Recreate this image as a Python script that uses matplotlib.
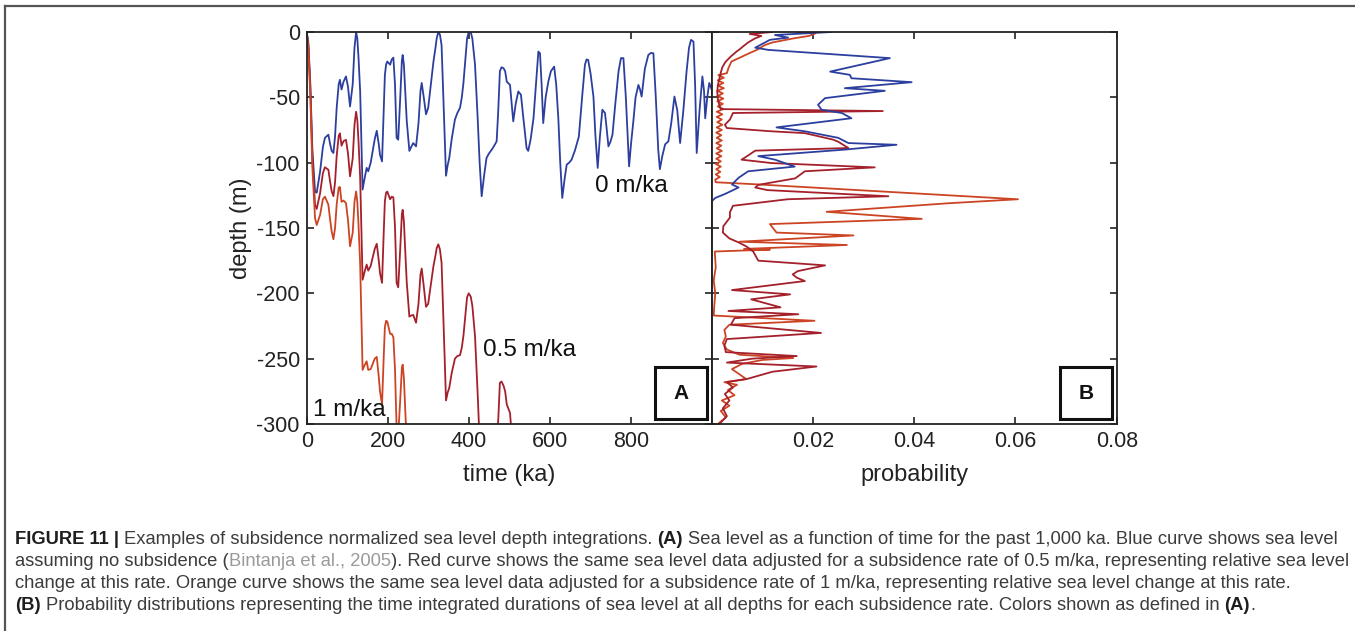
import matplotlib
matplotlib.use("Agg")
import matplotlib.pyplot as plt
from matplotlib.patches import Rectangle
from matplotlib.lines import Line2D

plt.rcParams["font.family"] = ["Liberation Sans", "DejaVu Sans"]
plt.rcParams["axes.unicode_minus"] = False

# ---- panel A: sea level vs time ----
time_blue = [0, 4, 9, 14, 20.6, 24.7, 33, 40, 45, 53.5, 58, 61.7, 66, 70, 74, 79, 82, 86, 91, 97,
             102, 107, 113.6, 118, 122, 125, 128, 132, 138, 143, 148, 152, 158, 163, 168, 173, 178,
             181, 186, 190, 193, 196, 199, 203, 206, 210, 214, 218, 222, 226, 231, 235, 237, 240,
             244, 247, 253.5, 258, 263, 270, 276, 281, 284, 289, 294.6, 300, 304.5, 313, 318, 321,
             325, 329, 333, 338, 344, 348, 352, 358, 366, 372, 378.6, 383, 387, 392, 396, 400, 405,
             409, 415.6, 422, 427, 432, 438, 444, 450, 457, 463, 469, 473, 477, 481, 486, 490, 494,
             502, 510, 516, 522.5, 529, 535, 543, 547, 553, 560, 566, 572, 576, 580, 584, 590, 596.6,
             603, 611, 616, 621.3, 626, 631, 637, 642, 648, 654, 662, 672, 680, 687, 691, 695, 701,
             708, 713, 718.5, 724, 730, 736.5, 740, 745, 750, 755, 762, 770, 776, 782, 788, 796, 801,
             806.5, 812, 819, 823, 827, 835, 843.5, 850, 856, 862, 868, 872, 878, 885, 893, 900, 908,
             915, 922, 930, 938, 944, 949, 955, 959, 963, 970, 977, 981, 984, 989, 994, 1000]
depth_blue = [0, -8, -40, -90, -122, -123, -107, -88, -81, -78.6, -86, -91, -92.6, -80, -58, -40,
              -36.6, -44, -38, -34, -42, -57, -40, -12, 0, -5, -20, -45.5, -120.6, -112, -104, -106.6,
              -100, -91, -82, -75.6, -86, -94, -99, -60, -33, -25, -22.6, -24, -25, -21, -19.6, -40,
              -81, -82.4, -50, -22, -17.6, -25, -50, -68, -91, -88, -85, -87.5, -70, -45, -39, -50,
              -63, -58, -45.5, -22.6, -12, -4.8, 0, -2, -10, -55, -110, -102, -96.4, -82, -67, -62,
              -58, -50, -39, -20, -5, 0, 0, -5, -25, -65, -100, -125.7, -110, -96.4, -93, -90, -87,
              -83.7, -60, -30, -27, -27.7, -30, -38, -40.5, -68.4, -55, -45.5, -48, -66, -89, -91,
              -82, -66, -40, -15, -16.3, -40, -69.7, -50, -38, -30, -26.5, -40, -66, -100, -127, -112,
              -101.5, -100, -97.7, -91, -80, -50, -25, -21, -21.4, -32, -49.4, -80, -104, -80, -59.5,
              -62, -72, -87.5, -84, -78.6, -55, -30, -20, -20, -50, -102.8, -85, -68.4, -50, -40.5,
              -44, -49.4, -28, -17.6, -16, -16.3, -50, -90, -105, -95, -86, -83.7, -70, -49.4, -60,
              -85, -60, -30, -12, -6, -7.4, -40, -92.6, -60, -34, -45, -66, -50, -39, -44]

time_red = [0, 4, 9, 14, 20.6, 24.7, 33, 40, 45, 53.5, 58, 61.7, 66, 70, 74, 79, 82, 86, 91, 97,
            102, 107, 113.6, 118, 122, 125, 128, 132, 138, 143, 148, 152, 158, 163, 168, 173, 178,
            181, 186, 190, 193, 196, 199, 203, 206, 210, 214, 218, 222, 226, 231, 235, 237, 240,
            244, 247, 253.5, 258, 263, 270, 276, 281, 284, 289, 294.6, 300, 304.5, 313, 318, 321,
            325, 329, 333, 338, 344, 348, 352, 358, 366, 372, 378.6, 383, 387, 392, 396, 400, 405,
            409, 415.6, 422, 427, 432, 438, 444, 450, 457, 463, 469, 473, 477, 481, 486, 490, 494,
            502, 510, 516]
depth_red = [0, -10, -44.5, -97, -132.3, -135.4, -123.5, -108, -103.5, -105.4, -115, -121.9, -125.6,
             -115, -95, -79.5, -77.6, -87, -83.5, -82.5, -93, -110.5, -96.8, -71, -61, -67.5, -84,
             -111.5, -189.6, -183.5, -178, -182.6, -179, -172.5, -166, -162.1, -175, -184.5, -192,
             -155, -129.5, -123, -122.1, -125.5, -128, -126, -126.6, -149, -192, -195.4, -165.5,
             -139.5, -136.1, -145, -172, -191.5, -217.8, -217, -216.5, -222.5, -208, -185.5, -181,
             -194.5, -210.3, -208, -197.8, -179.1, -171, -165.3, -162.5, -166.5, -176.5, -224, -282,
             -276, -272.4, -261, -250, -248, -247.3, -241.5, -232.5, -216, -203, -200, -202.5,
             -209.5, -232.8, -276, -313.5, -341.7, -329, -318.4, -318, -318.5, -318.5, -318.2,
             -296.5, -268.5, -267.5, -270.7, -275, -285, -291.5, -323.4, -313]

time_orange = [0, 4, 9, 14, 20.6, 24.7, 33, 40, 45, 53.5, 58, 61.7, 66, 70, 74, 79, 82, 86, 91, 97,
               102, 107, 113.6, 118, 122, 125, 128, 132, 138, 143, 148, 152, 158, 163, 168, 173,
               178, 181, 186, 190, 193, 196, 199, 203, 206, 210, 214, 218, 222, 226, 231, 235, 237,
               240, 244, 247]
depth_orange = [0, -12, -49, -104, -142.6, -147.7, -140, -128, -126, -132.1, -144, -152.7, -158.6,
                -150, -132, -119, -118.6, -130, -129, -131, -144, -164, -153.6, -130, -122, -130,
                -148, -177.5, -258.6, -255, -252, -258.6, -258, -254, -250, -248.6, -264, -275,
                -285, -250, -226, -221, -221.6, -227, -231, -231, -233.6, -258, -303, -308.4, -281,
                -257, -254.6, -265, -294, -315]

# ---- panel B: probability vs depth ----
pdepth_blue = [0, -2.3, -4.3, -6, -8.7, -12, -13.7, -20, -30.3, -32.8, -35.4, -38.4, -43, -45,
               -50.6, -55.7, -59.5, -62, -66, -73, -76, -81, -85, -86.3, -90, -95, -97.7, -103,
               -106.6, -111.6, -116.7, -119, -124, -127, -129.6, -300]
prob_blue = [0.0237, 0.0125, 0.0151, 0.0115, 0.0102, 0.0086, 0.0112, 0.0352, 0.0234, 0.0273,
             0.0276, 0.0395, 0.0263, 0.0342, 0.0224, 0.0210, 0.0217, 0.0257, 0.0276, 0.0128,
             0.0184, 0.0250, 0.0270, 0.0365, 0.0263, 0.0092, 0.0125, 0.0164, 0.0072, 0.0053,
             0.0040, 0.0053, 0.0026, 0.0007, 0.0, 0.0]

pdepth_red = [0, -1.5, -3, -5, -8, -11, -13, -15, -19, -23, -27, -31, -36, -41, -46, -51, -56, -59,
              -60.5, -62, -67, -71, -73.5, -76, -77.4, -82.4, -84, -88.8, -90.8, -95, -97.7, -100.3,
              -103.6, -106.6, -112, -117, -119, -121, -125.7, -128, -133, -138, -142, -148.6,
              -153.5, -158, -161, -164, -168, -175, -178.6, -183, -185.5, -188, -190.6, -197.5,
              -200.8, -204.6, -210.7, -213.5, -216, -219, -224, -230.3, -235, -240, -245, -248,
              -250, -253, -256, -260, -265.6, -268, -272, -277, -282, -288, -294, -300]
prob_red = [0.0120, 0.0075, 0.0098, 0.0085, 0.0072, 0.0062, 0.0056, 0.0049, 0.0037, 0.0027,
            0.0021, 0.0018, 0.0015, 0.0012, 0.0011, 0.0012, 0.0015, 0.0018, 0.0338, 0.0042,
            0.0036, 0.0026, 0.0030, 0.0118, 0.0184, 0.0240, 0.0250, 0.0270, 0.0086, 0.0070,
            0.0059, 0.0118, 0.0322, 0.0184, 0.0165, 0.0092, 0.0086, 0.0110, 0.0349, 0.0150,
            0.0042, 0.0036, 0.0036, 0.0023, 0.0022, 0.0035, 0.0053, 0.0068, 0.0082, 0.0092,
            0.0224, 0.0170, 0.0160, 0.0168, 0.0184, 0.0040, 0.0155, 0.0078, 0.0136, 0.0033,
            0.0171, 0.0045, 0.0038, 0.0216, 0.0030, 0.0025, 0.0028, 0.0168, 0.0080, 0.0030,
            0.0207, 0.0120, 0.0069, 0.0030, 0.0042, 0.0026, 0.0035, 0.0022, 0.0030, 0.0015]

pdepth_orange = [0, -1, -3, -5, -8, -10, -13.7, -17, -19, -22.6, -27.7, -31.5,
                 -33, -35, -37, -39, -41, -43, -45, -47, -49, -51, -53, -55, -57, -59, -61, -63,
                 -65, -67, -69, -71, -73, -75, -77, -79, -81, -83, -85, -87, -89, -91, -93, -95,
                 -97, -99, -101, -103, -105, -107, -109, -111, -113, -115,
                 -116.5, -128, -131, -137.6, -143, -147, -153.5, -155.7, -160.5, -163, -166,
                 -166.5, -168, -180, -190, -200, -210, -217, -221, -224, -228, -233, -238, -243,
                 -247, -249.5, -251, -254, -258, -262, -265.6, -268, -270, -274, -278, -282, -286,
                 -290, -295, -300]
prob_orange = [0.0170, 0.0205, 0.0192, 0.0160, 0.0120, 0.0105, 0.0089, 0.0070, 0.0059, 0.0039,
               0.0033, 0.0030,
               0.0013, 0.0024, 0.0012, 0.0023, 0.0012, 0.0024, 0.0011, 0.0022, 0.0012, 0.0023,
               0.0011, 0.0022, 0.0012, 0.0023, 0.0010, 0.0021, 0.0010, 0.0020, 0.0011, 0.0021,
               0.0010, 0.0020, 0.0009, 0.0019, 0.0010, 0.0020, 0.0009, 0.0019, 0.0010, 0.0020,
               0.0009, 0.0019, 0.0009, 0.0018, 0.0008, 0.0018, 0.0009, 0.0017, 0.0008, 0.0016,
               0.0007, 0.0008,
               0.0085, 0.0605, 0.0470, 0.0227, 0.0415, 0.0115, 0.0128, 0.0280, 0.0055, 0.0267,
               0.0064, 0.0115, 0.0006, 0.0008, 0.0004, 0.0007, 0.0005, 0.0004, 0.0203, 0.0035,
               0.0025, 0.0028, 0.0022, 0.0030, 0.0055, 0.0161, 0.0100, 0.0060, 0.0040, 0.0055,
               0.0068, 0.0025, 0.0050, 0.0032, 0.0045, 0.0020, 0.0035, 0.0018, 0.0028, 0.0012]

time_ticks = [0, 200, 400, 600, 800]
prob_ticks = [0.02, 0.04, 0.06, 0.08]
depth_ticks = [0, -50, -100, -150, -200, -250, -300]

C_BLUE = "#2c3f9e"
C_RED = "#a4202b"
C_ORANGE = "#cc4424"
C_AX = "#222222"

W, H = 1355, 631
fig = plt.figure(figsize=(W / 100, H / 100), dpi=100)


def fx(px):
    return px / W


def fy(py):
    return 1 - py / H


ax_top, ax_bot = 32, 424
axA = fig.add_axes([fx(306.7), fy(ax_bot), fx(405), (ax_bot - ax_top) / H])
axB = fig.add_axes([fx(711.7), fy(ax_bot), fx(405), (ax_bot - ax_top) / H])

lw = 1.3
axA.plot(time_blue, depth_blue, color=C_BLUE, lw=lw)
axA.plot(time_red, depth_red, color=C_RED, lw=lw)
axA.plot(time_orange, depth_orange, color=C_ORANGE, lw=lw)

axB.plot(prob_orange, pdepth_orange, color=C_ORANGE, lw=lw)
axB.plot(prob_red, pdepth_red, color=C_RED, lw=lw)
axB.plot(prob_blue, pdepth_blue, color=C_BLUE, lw=lw)

for ax in (axA, axB):
    ax.set_ylim(-300, 0)
    ax.set_yticks(depth_ticks)
    ax.tick_params(direction="in", top=True, right=True, length=5, width=1.2,
                   labelsize=15.5, colors=C_AX, pad=5)
    for s in ax.spines.values():
        s.set_color(C_AX)
        s.set_linewidth(1.3)

axA.set_xlim(0, 1000)
axA.set_xticks(time_ticks)
axA.set_xlabel("time (ka)", fontsize=17, color=C_AX, va="center")
axA.set_ylabel("depth (m)", fontsize=17, color=C_AX, va="center")
axA.xaxis.set_label_coords(0.5, -0.13)
axA.yaxis.set_label_coords(-0.162, 0.5)

axB.set_xlim(0, 0.08)
axB.set_xticks(prob_ticks)
axB.set_xticklabels([f"{v:.2f}" for v in prob_ticks])
axB.tick_params(labelleft=False)
axB.set_xlabel("probability", fontsize=17, color=C_AX, va="center")
axB.xaxis.set_label_coords(0.5, -0.13)

axA.text(712, -117.5, "0 m/ka", fontsize=17.5, color="#111111", va="center", ha="left")
axA.text(435, -243.5, "0.5 m/ka", fontsize=17.5, color="#111111", va="center", ha="left")
axA.text(16, -289.5, "1 m/ka", fontsize=17.5, color="#111111", va="center", ha="left")

for ax, letter in ((axA, "A"), (axB, "B")):
    ax.add_patch(Rectangle((0.860, 0.013), 0.128, 0.132, transform=ax.transAxes,
                           facecolor="white", edgecolor="#111111", lw=2.2, zorder=5))
    ax.text(0.924, 0.079, letter, transform=ax.transAxes, fontsize=15, fontweight="bold",
            ha="center", va="center", color="#111111", zorder=6)

# outer frame lines (top and left)
fig.add_artist(Line2D([fx(5), 1], [fy(6), fy(6)], color="#555555", lw=1.6))
fig.add_artist(Line2D([fx(5), fx(5)], [fy(6), 0], color="#555555", lw=1.6))

# ---- caption ----
CAP_FONT = ["Liberation Sans Narrow", "Liberation Sans", "DejaVu Sans"]
C_TXT = "#3c3c3c"
C_BOLD = "#1e1e1e"
C_CITE = "#9a9a9a"

cap_lines = [
    [("FIGURE 11 |", "bold", C_BOLD),
     (" Examples of subsidence normalized sea level depth integrations. ", "normal", C_TXT),
     ("(A)", "bold", C_BOLD),
     (" Sea level as a function of time for the past 1,000 ka. Blue curve shows sea level", "normal", C_TXT)],
    [("assuming no subsidence (", "normal", C_TXT),
     ("Bintanja et al., 2005", "normal", C_CITE),
     ("). Red curve shows the same sea level data adjusted for a subsidence rate of 0.5 m/ka, "
      "representing relative sea level", "normal", C_TXT)],
    [("change at this rate. Orange curve shows the same sea level data adjusted for a subsidence "
      "rate of 1 m/ka, representing relative sea level change at this rate.", "normal", C_TXT)],
    [("(B)", "bold", C_BOLD),
     (" Probability distributions representing the time integrated durations of sea level at all "
      "depths for each subsidence rate. Colors shown as defined in ", "normal", C_TXT),
     ("(A)", "bold", C_BOLD),
     (".", "normal", C_TXT)],
]
cap_y = [539, 561, 583, 605]

renderer = fig.canvas.get_renderer()


def text_w(s, size, weight):
    t = fig.text(0, 0, s, fontsize=size, fontweight=weight, family=CAP_FONT)
    w = t.get_window_extent(renderer).width
    t.remove()
    return w


def draw_line(runs, x0, y, size, draw=True):
    sp = text_w("x x", size, "normal") - text_w("xx", size, "normal")
    x = x0
    for s, weight, color in runs:
        if s.startswith(" "):
            x += sp
        body = s.strip()
        if draw:
            fig.text(fx(x), fy(y), body, fontsize=size, fontweight=weight, color=color,
                     family=CAP_FONT, ha="left", va="center")
        x += text_w(body, size, weight)
        if s.endswith(" "):
            x += sp
    return x


w10 = draw_line(cap_lines[0], 0, 0, 10, draw=False)
cap_size = 10 * (1343 - 15) / w10
for runs, y in zip(cap_lines, cap_y):
    draw_line(runs, 15, y, cap_size)

fig.savefig("out.png", dpi=100)
